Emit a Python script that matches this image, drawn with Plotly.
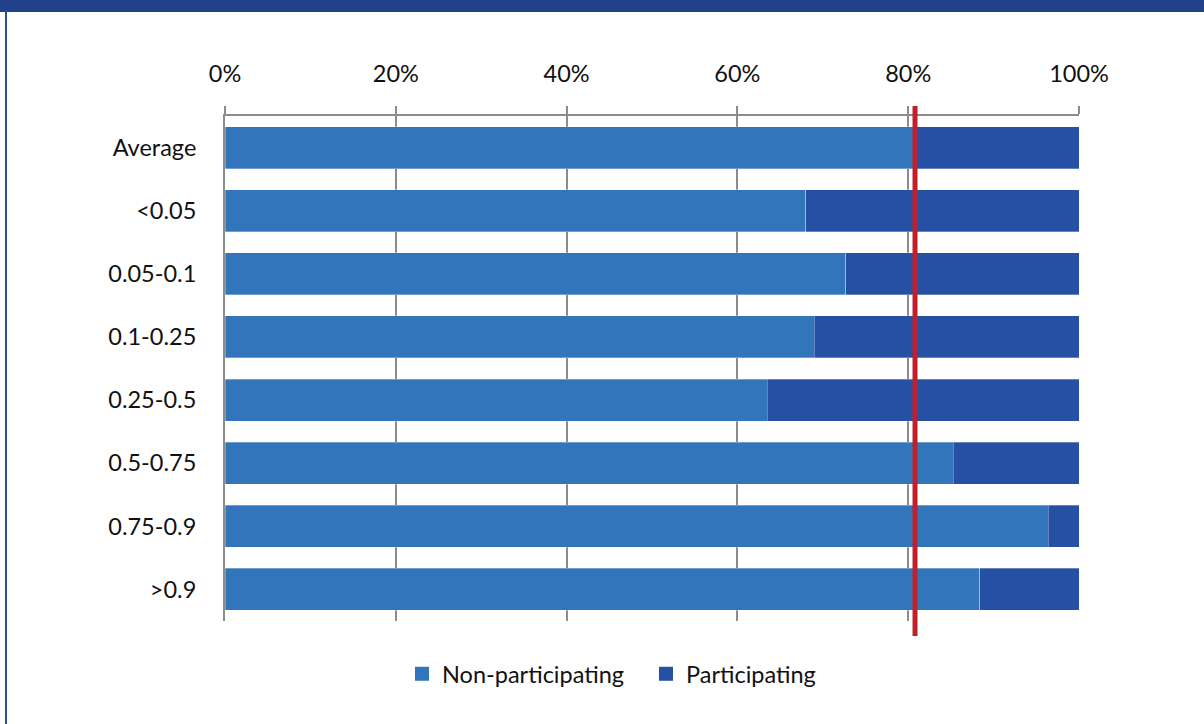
import plotly.graph_objects as go

# Bar categories, top to bottom
categories = ["Average", "<0.05", "0.05-0.1", "0.1-0.25", "0.25-0.5", "0.5-0.75", "0.75-0.9", ">0.9"]
# Share of non-participating (%) per category
non_participating = [80.8, 68.0, 72.7, 69.0, 63.5, 85.3, 96.4, 88.4]
# Share of participating (%) per category
participating = [100 - v for v in non_participating]
# Reference line: overall average share
average_line = 80.8

tick_values = [0, 20, 40, 60, 80, 100]
tick_labels = ["0%", "20%", "40%", "60%", "80%", "100%"]

LIGHT = "#3375BB"
DARK = "#2550A3"
GRID = "#8C8C8C"
FONT = "Lato, Carlito, Calibri, sans-serif"
FS = 23.5

# Plot-area pixel geometry (used to place decorative frame shapes)
W, H = 1204, 724
L, R, T, B = 225, 125, 116, 103
pw, ph = W - L - R, H - T - B


def px_x(px):
    return (px - L) / pw


def px_y(py):
    return (H - B - py) / ph


fig = go.Figure()
series = [("Non-participating", non_participating, LIGHT), ("Participating", participating, DARK)]
for name, values, color in series:
    fig.add_trace(go.Bar(
        y=categories, x=values, orientation="h", name=name, legendgroup=name, showlegend=False,
        marker=dict(color=color, line=dict(color="rgba(255,255,255,0.5)", width=0.6)),
    ))
for name, values, color in series:
    # square legend keys
    fig.add_trace(go.Scatter(
        x=[None], y=[None], mode="markers", name=name, legendgroup=name,
        marker=dict(symbol="square", size=14, color=color),
    ))

shapes = [
    # header band
    dict(type="rect", xref="paper", yref="paper", x0=px_x(-5), x1=px_x(W + 5),
         y0=px_y(12), y1=px_y(-5), fillcolor="#21428A", line=dict(width=0), layer="above"),
    # left frame edge
    dict(type="line", xref="paper", yref="paper", x0=px_x(6), x1=px_x(6),
         y0=px_y(10), y1=px_y(H + 5), line=dict(color="#2A4D9A", width=2)),
    # average marker
    dict(type="line", xref="x", yref="paper", x0=average_line, x1=average_line,
         y0=px_y(106), y1=px_y(636), line=dict(color="#C0202A", width=5), layer="above"),
]

fig.update_layout(
    width=W, height=H,
    margin=dict(l=L, r=R, t=T, b=B, pad=0),
    barmode="stack", bargap=0.335,
    paper_bgcolor="white", plot_bgcolor="white",
    font=dict(family=FONT, size=FS, color="#111111"),
    shapes=shapes,
    showlegend=True,
    legend=dict(orientation="h", x=px_x(402), xanchor="left", y=px_y(674), yanchor="middle",
                font=dict(size=FS), itemwidth=30, entrywidth=199, entrywidthmode="pixels",
                traceorder="normal", itemclick=False, itemdoubleclick=False),
    xaxis=dict(
        range=[0, 100], side="top", tickvals=tick_values, ticktext=tick_labels,
        showgrid=True, gridcolor=GRID, gridwidth=2,
        ticks="outside", ticklen=8, tickwidth=2, tickcolor=GRID,
        showline=True, linecolor=GRID, linewidth=2,
        zeroline=False, ticklabelstandoff=15, fixedrange=True,
    ),
    yaxis=dict(
        autorange="reversed", showgrid=False, ticks="",
        showline=True, linecolor=GRID, linewidth=2,
        ticklabelstandoff=22, fixedrange=True,
    ),
)

fig.write_html("out.html")
